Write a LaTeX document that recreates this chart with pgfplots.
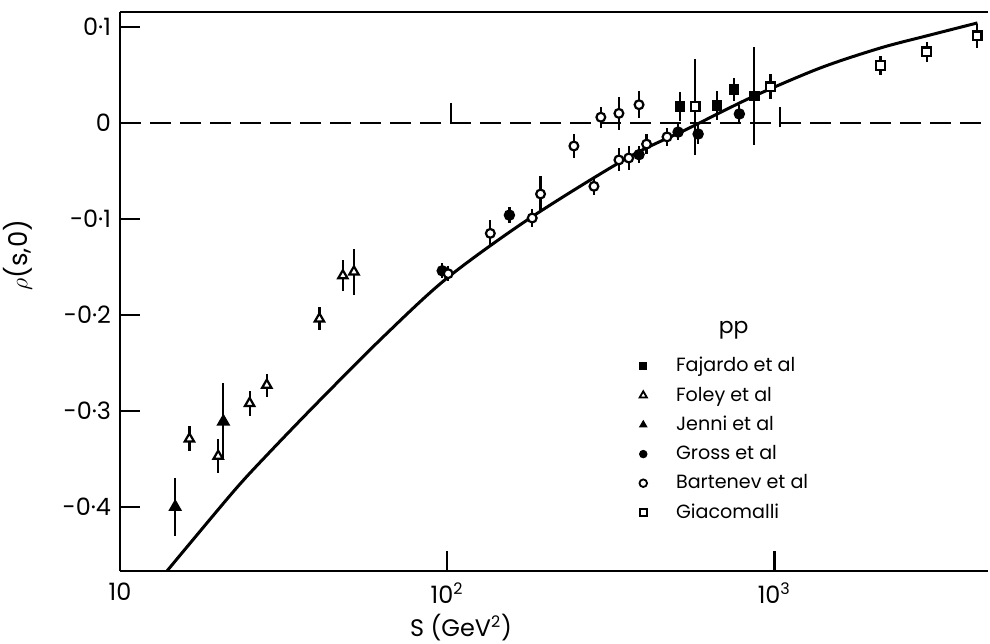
\documentclass[border=0pt]{standalone}
\usepackage{pgfplots}
\pgfplotsset{compat=1.18}
\usepackage{fontspec}
\setmainfont{Poppins}
\usetikzlibrary{calc}

\pgfplotsset{
  errb/.style={line width=1.1bp,
    error bars/.cd, y dir=both, y explicit, error mark=none,
    error bar style={line width=1.1bp, black, solid}},
}

\begin{document}
\begin{tikzpicture}
\begin{axis}[
  scale only axis, width=434bp, height=279.5bp,
  xmode=log, xmin=10, xmax=4500, ymin=-0.4667, ymax=0.1156,
  clip=false,
  axis x line*=box, axis y line*=left,
  axis line style={line width=1.3bp, black},
  xtick={10,100,1000},
  xticklabels={10,10\textsuperscript{2},10\textsuperscript{3}},
  ytick={-0.4,-0.3,-0.2,-0.1,0,0.1},
  yticklabels={-0·4,-0·3,-0·2,-0·1,0,0·1},
  xminorticks=false, yminorticks=false,
  xtick pos=left, ytick pos=left, tick align=inside,
  major tick length=10bp,
  every tick/.style={black, line width=1.3bp},
  ticklabel style={font=\fontsize{12}{14}\selectfont},
  xticklabel style={yshift=-2.5bp},
  yticklabel style={xshift=-1bp},
  legend style={draw=none, fill=none, at={(0.598,0.390)}, anchor=north west,
    font=\fontsize{9.6}{11.5}\selectfont, row sep=2.0bp, column sep=12.5bp, inner sep=0bp},
  legend cell align=left,
]
% legend images
\addlegendimage{only marks, mark=square*, mark size=1.8bp, mark options={fill=black, draw=black}}
\addlegendentry{Fajardo et al}
\addlegendimage{only marks, mark=triangle*, mark size=2.1bp, mark options={fill=white, draw=black, line width=0.9bp}}
\addlegendentry{Foley et al}
\addlegendimage{only marks, mark=triangle*, mark size=2.1bp, mark options={fill=black, draw=black}}
\addlegendentry{Jenni et al}
\addlegendimage{only marks, mark=*, mark size=1.9bp, mark options={fill=black, draw=black}}
\addlegendentry{Gross et al}
\addlegendimage{only marks, mark=*, mark size=1.9bp, mark options={fill=white, draw=black, line width=0.9bp}}
\addlegendentry{Bartenev et al}
\addlegendimage{only marks, mark=square*, mark size=1.8bp, mark options={fill=white, draw=black, line width=0.9bp}}
\addlegendentry{Giacomalli}

% zero line
\addplot[forget plot, black, line width=1.3bp, dash pattern=on 10.5bp off 4.5bp] coordinates {(10,0) (4500,0)};

% theoretical curve
\addplot[forget plot, black, line width=1.5bp, smooth] coordinates {
(13.92,-0.4667) (22.16,-0.3844) (28.15,-0.3458) (40.05,-0.2917) (63.72,-0.2229)
(100,-0.1615) (179.4,-0.0990) (355.2,-0.0365) (541.9,-0.0063) (856.2,0.0271)
(1382,0.0573) (2110,0.0781) (2999,0.0917) (4177,0.1042)};

% bare error marks
\addplot[forget plot, draw=none, mark=none, errb] table[x=s, y=r, y error=e] {
s r e
102.5 0.0095 0.011
1043 0.0065 0.0105
};

% Foley (open triangles)
\addplot[forget plot, only marks, black, mark=triangle*, mark size=2.7bp, mark options={fill=white, draw=black, line width=1.1bp}, errb] table[x=s, y=r, y error=e] {
s r e
16.3 -0.329 0.013
19.96 -0.347 0.018
24.9 -0.292 0.013
28.1 -0.273 0.012
40.7 -0.204 0.012
48.0 -0.159 0.016
51.9 -0.155 0.024
};

% Jenni (filled triangles)
\addplot[forget plot, only marks, black, mark=triangle*, mark size=2.9bp, mark options={fill=black, draw=black}, errb] table[x=s, y=r, y error=e] {
s r e
14.75 -0.400 0.030
20.7 -0.311 0.040
};

% Gross (filled circles)
\addplot[forget plot, only marks, black, mark=*, mark size=2.3bp, mark options={fill=black, draw=black}, errb] table[x=s, y=r, y error=e] {
s r e
96.6 -0.154 0.008
155 -0.096 0.008
386 -0.033 0.009
508 -0.0095 0.008
585 -0.0115 0.010
782 0.0094 0.009
};

% Bartenev (open circles)
\addplot[forget plot, only marks, black, mark=*, mark size=2.2bp, mark options={fill=white, draw=black, line width=1.1bp}, errb] table[x=s, y=r, y error=e] {
s r e
100.7 -0.157 0.008
135.5 -0.115 0.014
182 -0.099 0.009
193 -0.074 0.019
244 -0.024 0.012
281 -0.066 0.009
295 0.006 0.011
335 0.010 0.017
386 0.019 0.014
335 -0.0385 0.012
359 -0.0365 0.013
407 -0.022 0.010
470 -0.0145 0.009
};

% Fajardo (filled squares)
\addplot[forget plot, only marks, black, mark=square*, mark size=2.1bp, mark options={fill=black, draw=black}, errb] table[x=s, y=r, y error=e] {
s r e
515 0.017 0.015
668 0.018 0.015
754 0.035 0.012
869 0.028 0.051
};

% Giacomelli (open squares)
\addplot[forget plot, only marks, black, mark=square*, mark size=2.2bp, mark options={fill=white, draw=black, line width=1.1bp}, errb] table[x=s, y=r, y error=e] {
s r e
573 0.017 0.05
973 0.0375 0.013
2113 0.060 0.010
2924 0.074 0.010
4170 0.0906 0.013
};

\node[font=\fontsize{11}{13}\selectfont] at (rel axis cs:0.707,0.43) {pp};
\node[rotate=90, font=\fontsize{13}{15}\selectfont] at (rel axis cs:-0.118,0.565) {$\rho$(s,0)};
\node[font=\fontsize{12}{14}\selectfont] at (rel axis cs:0.393,-0.101) {S (GeV\textsuperscript{2})};
\end{axis}
\pgfresetboundingbox
\path[use as bounding box] ($(current axis.south west)+(-60bp,-36.5bp)$) rectangle ($(current axis.north east)+(1bp,6bp)$);
\end{tikzpicture}
\end{document}
